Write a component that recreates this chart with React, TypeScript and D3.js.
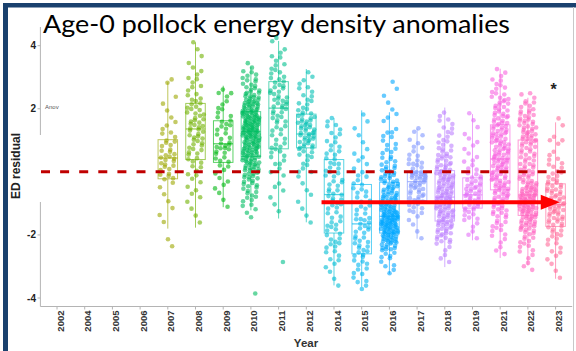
import React, { useMemo } from "react";
import * as d3 from "d3";

const W = 576;
const H = 351;

// every level on the x axis (empty years included, they still take a colour)
const axisYears = ["2002", "2004", "2005", "2006", "2007", "2008", "2009", "2010", "2011", "2012",
  "2014", "2015", "2016", "2017", "2018", "2019", "2021", "2022", "2023"];

// years that carry samples
const years = ["2007", "2008", "2009", "2010", "2011", "2012", "2014", "2015", "2016", "2017", "2018", "2019", "2021", "2022", "2023"];

// boxplot stats (ED residual)
const q1 = [-0.22, 0.39, 0.30, 0.49, 0.73, 0.76, -1.94, -2.60, -1.94, -0.91, -1.56, -1.15, -0.57, -1.38, -1.73];
const med = [0.44, 1.36, 0.89, 1.28, 2.02, 1.20, -0.72, -1.65, -1.41, -0.31, -0.80, -0.73, 0.41, -0.73, -1.04];
const q3 = [1.02, 2.17, 1.62, 1.91, 2.86, 1.83, 0.39, -0.40, -0.33, 0.00, 0.04, -0.19, 1.49, 1.01, -0.38];
const whiskLo = [-1.80, -1.77, -1.12, -1.22, -1.48, -1.60, -3.60, -3.65, -3.23, -2.12, -3.02, -2.17, -2.73, -2.97, -3.39];
const whiskHi = [2.84, 4.10, 2.73, 3.33, 4.15, 3.26, 1.71, 1.95, 1.89, 1.36, 2.04, 1.83, 3.27, 2.35, 1.57];

// point counts per 0.25-wide residual bin, starting at binFrom
const BIN = 0.25;
const binFrom = [-2.5, -1.75, -1.25, -4.0, -3.0, -1.75, -3.75, -3.75, -3.25, -2.25, -3.0, -2.25, -2.75, -3.25, -3.5];
const binCounts = [
  [1, 1, 0, 1, 1, 1, 1, 1, 2, 5, 5, 6, 5, 5, 3, 2, 2, 1, 1, 1, 0, 2],
  [1, 1, 1, 2, 2, 2, 3, 3, 4, 5, 5, 6, 7, 6, 6, 5, 4, 3, 3, 2, 2, 1, 1, 1],
  [1, 1, 2, 2, 2, 3, 4, 5, 6, 4, 4, 4, 3, 3, 2, 2],
  [1, 0, 0, 0, 0, 0, 0, 0, 0, 0, 2, 3, 4, 5, 7, 9, 12, 14, 16, 18, 20, 22, 21, 19, 15, 11, 8, 6, 4, 2],
  [1, 0, 0, 0, 0, 0, 1, 1, 1, 1, 2, 2, 2, 3, 4, 4, 4, 4, 5, 5, 6, 6, 6, 5, 4, 3, 3, 2, 2],
  [1, 1, 1, 1, 2, 1, 2, 3, 3, 5, 8, 10, 9, 8, 6, 4, 3, 3, 2, 2],
  [1, 1, 2, 3, 3, 4, 4, 4, 4, 4, 4, 5, 5, 5, 4, 4, 4, 4, 4, 3, 3, 2],
  [2, 3, 4, 4, 5, 5, 5, 5, 5, 4, 4, 4, 4, 3, 3, 2, 2, 2, 1, 1, 1, 1, 1],
  [2, 3, 5, 10, 16, 20, 24, 22, 16, 13, 11, 10, 9, 7, 5, 4, 3, 3, 2, 2, 2, 1, 1, 1, 1],
  [1, 1, 2, 3, 5, 7, 7, 9, 15, 4, 4, 3, 3, 2, 2],
  [1, 2, 3, 7, 9, 11, 12, 12, 13, 13, 12, 12, 9, 7, 6, 5, 4, 3, 3, 2],
  [1, 2, 3, 5, 7, 9, 9, 8, 5, 3, 3, 2, 2, 2, 1, 1, 1],
  [1, 2, 3, 4, 5, 6, 7, 8, 9, 10, 10, 11, 11, 11, 10, 10, 9, 8, 8, 7, 6, 4, 3, 2, 1],
  [1, 2, 3, 4, 5, 8, 11, 13, 16, 17, 14, 10, 8, 7, 6, 7, 8, 9, 9, 8, 7, 5, 3],
  [1, 1, 2, 3, 3, 4, 5, 7, 8, 9, 9, 8, 7, 5, 4, 3, 2, 2, 2, 1, 1],
];

const yTicks = [4, 2, -2, -4];

// red arrow annotation: level (residual) and start / end in axis-index units
const arrowLevel = -0.96;
const arrowFrom = 9.55;
const arrowTo = 18.15;

// ggplot-style hue palette (polar LUV, c = 100, l = 65)
function hueColor(h: number): string {
  const L = 65, C = 100;
  const rad = (h * Math.PI) / 180;
  const u = C * Math.cos(rad), v = C * Math.sin(rad);
  const XN = 95.047, YN = 100, ZN = 108.883;
  const t = XN + YN + ZN;
  const xn = XN / t, yn = YN / t;
  const uN = (2 * xn) / (6 * yn - xn + 1.5);
  const vN = (4.5 * yn) / (6 * yn - xn + 1.5);
  const Y = YN * Math.pow((L + 16) / 116, 3);
  const U = uN + u / (13 * L);
  const V = vN + v / (13 * L);
  const X = (9 * Y * U) / (4 * V);
  const Z = -X / 3 - 5 * Y + (3 * Y) / V;
  const xs = X / 100, ys = Y / 100, zs = Z / 100;
  const lin = [
    3.240479 * xs - 1.53715 * ys - 0.498535 * zs,
    -0.969256 * xs + 1.875992 * ys + 0.041556 * zs,
    0.055648 * xs - 0.204043 * ys + 1.057311 * zs,
  ];
  const g = lin.map((c) => {
    const s = c <= 0.0031308 ? 12.92 * c : 1.055 * Math.pow(c, 1 / 2.4) - 0.055;
    return Math.round(Math.max(0, Math.min(1, s)) * 255);
  });
  return d3.rgb(g[0], g[1], g[2]).formatHex();
}

const frac = (v: number) => v - Math.floor(v);

export default function App() {
  const x = d3.scalePoint<string>().domain(axisYears).range([40.4, 572.2]).padding(0.6);
  const xi = d3.scaleLinear().domain([0, axisYears.length - 1])
    .range([x(axisYears[0]) as number, x(axisYears[axisYears.length - 1]) as number]);
  const y = d3.scaleLinear().domain([-4, 4]).range([298, 45.7]);

  const colorOf = (yr: string) => {
    const i = axisYears.indexOf(yr);
    return hueColor(15 + (360 * i) / axisYears.length);
  };

  const dots = useMemo(() => {
    const out: { cx: number; cy: number; fill: string; key: string }[] = [];
    years.forEach((yr, yi) => {
      const cx0 = x(yr) as number;
      const fill = colorOf(yr);
      let n = 0;
      binCounts[yi].forEach((c, k) => {
        const lower = binFrom[yi] + k * BIN;
        for (let j = 0; j < c; j++) {
          n++;
          const jx = frac(n * 0.7548776662) * 2 - 1;
          const jy = frac(n * 0.5698402910 + k * 0.31);
          out.push({ cx: cx0 + jx * 8.5, cy: y(lower + jy * BIN), fill, key: `${yr}-${k}-${j}` });
        }
      });
    });
    return out;
  }, []);

  const boxW = 19.5;
  const ay = y(arrowLevel);
  const ax0 = xi(arrowFrom);
  const ax1 = xi(arrowTo);
  const axisGrey = "#b4b4b4";
  const y0 = y(0);

  return (
    <svg width={W} height={H} style={{ position: "absolute", left: 0, top: 0, background: "#fff" }}>
      <rect x={0} y={0} width={W} height={H} fill="#fff" />

      {/* slide frame */}
      <rect x={3} y={3} width={W - 3} height={4.5} fill="#1a416e" />
      <rect x={3} y={3} width={5} height={H - 3} fill="#1a416e" />
      <line x1={573.5} x2={573.5} y1={7} y2={H} stroke="#c8c8c8" strokeWidth={1} />

      <text x={43} y={33} fontFamily="Lato, 'Open Sans', sans-serif" fontSize={25.5}
        textLength={467} lengthAdjust="spacingAndGlyphs" fill="#000">
        Age-0 pollock energy density anomalies
      </text>

      {/* points */}
      <g>
        {dots.map((d) => (
          <circle key={d.key} cx={d.cx} cy={d.cy} r={2.3} fill={d.fill} fillOpacity={0.6} />
        ))}
      </g>

      {/* boxes */}
      <g fill="none" strokeWidth={1} strokeOpacity={0.65}>
        {years.map((yr, i) => {
          const cx = x(yr) as number;
          const c = colorOf(yr);
          return (
            <g key={yr} stroke={c}>
              <line x1={cx} x2={cx} y1={y(whiskHi[i])} y2={y(q3[i])} />
              <line x1={cx} x2={cx} y1={y(q1[i])} y2={y(whiskLo[i])} />
              <rect x={cx - boxW / 2} y={y(q3[i])} width={boxW} height={y(q1[i]) - y(q3[i])} />
              <line x1={cx - boxW / 2} x2={cx + boxW / 2} y1={y(med[i])} y2={y(med[i])} strokeWidth={1.3} />
            </g>
          );
        })}
      </g>

      {/* axes */}
      <line x1={40.4} x2={40.4} y1={27} y2={135} stroke={axisGrey} />
      <line x1={40.4} x2={40.4} y1={202} y2={306.5} stroke={axisGrey} />
      <line x1={40.4} x2={572.2} y1={306.5} y2={306.5} stroke={axisGrey} />
      {yTicks.map((t) => (
        <g key={t}>
          <line x1={37.5} x2={40.4} y1={y(t)} y2={y(t)} stroke={axisGrey} />
          <text x={36} y={y(t)} dy="0.35em" textAnchor="end" fontFamily="'Liberation Sans', Arial, sans-serif"
            fontWeight="bold" fontSize={10} fill="#222">{t}</text>
        </g>
      ))}
      {axisYears.map((yr) => {
        const cx = x(yr) as number;
        return (
          <g key={yr}>
            <line x1={cx} x2={cx} y1={306.5} y2={309.5} stroke={axisGrey} />
            <text transform={`translate(${cx + 3.2},${310.5}) rotate(-90)`} textAnchor="end"
              dy="0.35em" fontFamily="'Liberation Sans', Arial, sans-serif" fontWeight="bold"
              fontSize={9.5} fill="#333">{yr}</text>
          </g>
        );
      })}
      <text x={306} y={347} textAnchor="middle" fontFamily="'Liberation Sans', Arial, sans-serif"
        fontWeight="bold" fontSize={11.5} fill="#333">Year</text>
      <text transform={`translate(20,166) rotate(-90)`} textAnchor="middle"
        fontFamily="'Liberation Sans', Arial, sans-serif" fontWeight="bold" fontSize={12} fill="#222">ED residual</text>

      <text x={45} y={109} fontFamily="'Liberation Sans', Arial, sans-serif" fontSize={6} fill="#555">Anov</text>
      <text x={553.5} y={95} textAnchor="middle" fontFamily="'Liberation Sans', Arial, sans-serif"
        fontWeight="bold" fontSize={16} fill="#222">*</text>

      {/* zero reference */}
      <line x1={41} x2={572} y1={y0} y2={y0} stroke="#c00000" strokeWidth={3} strokeDasharray="9 10.1" />

      {/* arrow */}
      <line x1={ax0} x2={ax1 - 16} y1={ay} y2={ay} stroke="#ff0000" strokeWidth={4} />
      <polygon points={`${ax1},${ay} ${ax1 - 19},${ay - 7.5} ${ax1 - 19},${ay + 7.5}`} fill="#ff0000" />
    </svg>
  );
}
